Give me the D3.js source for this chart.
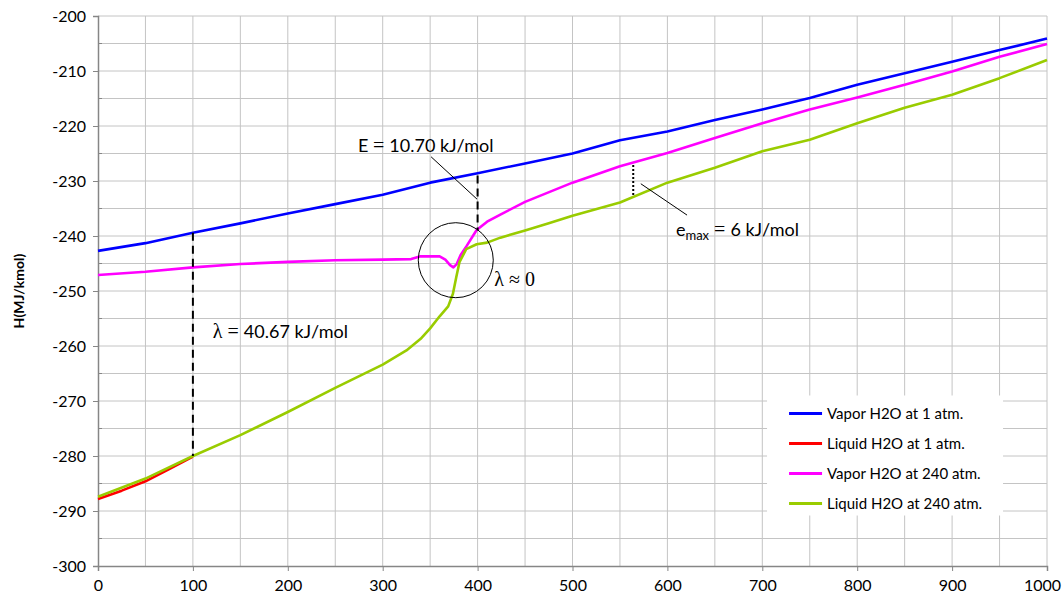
<!DOCTYPE html>
<html>
<head>
<meta charset="utf-8">
<script src="https://cdn.jsdelivr.net/npm/d3@7"></script>
<style>
  body { margin: 0; background: #fff; }
  svg { display: block; font-family: Lato, 'Liberation Sans', sans-serif; }
</style>
</head>
<body>
<div id="chart"></div>
<script>
const WIDTH = 1062
const HEIGHT = 600
const margin = { top: 16, right: 15, bottom: 34, left: 98 }

// series: [temperature, enthalpy]
const vapor1atm = [
  [0, -242.7], [50, -241.3], [100, -239.4], [150, -237.7], [200, -235.9], [250, -234.2],
  [300, -232.5], [350, -230.3], [400, -228.6], [450, -226.8], [500, -225.0], [550, -222.6],
  [600, -221.0], [650, -218.9], [700, -217.0], [750, -214.9], [800, -212.5], [850, -210.4],
  [900, -208.3], [950, -206.2], [1000, -204.1],
]
const liquid1atm = [
  [0, -287.8], [25, -286.3], [50, -284.6], [75, -282.4], [100, -280.1],
]
const vapor240atm = [
  [0, -247.1], [50, -246.5], [100, -245.7], [150, -245.1], [200, -244.7], [250, -244.4],
  [300, -244.3], [330, -244.2], [340, -243.7], [360, -243.7], [366, -244.3], [371, -245.3],
  [374.5, -245.7], [378, -245.1], [382, -243.5], [388.5, -241.8], [399, -238.9], [410, -237.4],
  [424, -236.1], [450, -233.8], [500, -230.3], [550, -227.3], [600, -224.9], [650, -222.2],
  [700, -219.5], [750, -217.0], [800, -214.8], [850, -212.5], [900, -210.1], [950, -207.4],
  [1000, -205.1],
]
const liquid240atm = [
  [0, -287.4], [50, -284.1], [100, -280.0], [150, -276.2], [200, -272.0], [250, -267.6],
  [300, -263.4], [325, -260.8], [340, -258.7], [350, -256.8], [360, -254.6], [369, -252.8],
  [374, -250.5], [377.5, -247.5], [381, -244.7], [388, -242.4], [399, -241.5], [410, -241.2],
  [424, -240.3], [450, -239.0], [475, -237.7], [500, -236.3], [550, -233.9], [600, -230.3],
  [650, -227.6], [700, -224.6], [750, -222.5], [800, -219.5], [850, -216.7], [900, -214.3],
  [950, -211.3], [1000, -208.0],
]

const seriesNames = ['Vapor H2O at 1 atm.', 'Liquid H2O at 1 atm.', 'Vapor H2O at 240 atm.', 'Liquid H2O at 240 atm.']
const seriesColors = ['#0000ff', '#ff0000', '#ff00ff', '#99cc00']
const seriesData = [vapor1atm, liquid1atm, vapor240atm, liquid240atm]

const xTicks = d3.range(0, 1001, 100)
const yTicks = d3.range(-300, -199, 10)

const svg = d3.select('#chart').append('svg')
  .attr('width', WIDTH)
  .attr('height', HEIGHT)

const x = d3.scaleLinear().domain([0, 1000]).range([margin.left, WIDTH - margin.right])
const y = d3.scaleLinear().domain([-300, -200]).range([HEIGHT - margin.bottom, margin.top])

// gridlines
const grid = svg.append('g').attr('stroke', '#c4c4c4').attr('stroke-width', 1)
grid.selectAll('line.v').data(d3.range(50, 1001, 50)).enter().append('line')
  .attr('x1', d => x(d)).attr('x2', d => x(d))
  .attr('y1', y(-300)).attr('y2', y(-200))
grid.selectAll('line.h').data(d3.range(-295, -199, 5)).enter().append('line')
  .attr('x1', x(0)).attr('x2', x(1000))
  .attr('y1', d => y(d)).attr('y2', d => y(d))

// axes (plain hyphen minus, no thousands separator)
const plain = d => String(d)
const yAxis = svg.append('g')
  .attr('transform', `translate(${x(0)},0)`)
  .call(d3.axisLeft(y).tickValues(yTicks).tickFormat(plain).tickSize(5).tickPadding(7))
const xAxis = svg.append('g')
  .attr('transform', `translate(0,${y(-300)})`)
  .call(d3.axisBottom(x).tickValues(xTicks).tickFormat(plain).tickSize(5).tickPadding(9))
for (const ax of [xAxis, yAxis]) {
  ax.select('.domain').attr('stroke', '#868686').attr('stroke-width', 1.5)
  ax.selectAll('.tick line').attr('stroke', '#868686')
  ax.selectAll('.tick text').attr('fill', '#000').style('font-size', '16px')
    .style('font-family', 'Lato, sans-serif')
}
// keep the last label inside the window
xAxis.selectAll('.tick text').filter(d => d === 1000).attr('dx', -5)
// minor ticks inside
svg.append('g').attr('stroke', '#868686').selectAll('line')
  .data(d3.range(-295, -200, 10)).enter().append('line')
  .attr('x1', x(0)).attr('x2', x(0) + 4)
  .attr('y1', d => y(d)).attr('y2', d => y(d))

svg.append('text')
  .attr('transform', `translate(24,${y(-250)}) rotate(-90)`)
  .attr('text-anchor', 'middle')
  .style('font-size', '14px')
  .style('font-weight', 'bold')
  .text('H(MJ/kmol)')

// series lines
const line = d3.line().x(d => x(d[0])).y(d => y(d[1]))
svg.append('g').selectAll('path')
  .data(seriesData).enter().append('path')
  .attr('d', line)
  .attr('fill', 'none')
  .attr('stroke', (d, i) => seriesColors[i])
  .attr('stroke-width', 2.6)
  .attr('stroke-linejoin', 'round')

// annotations
const ann = svg.append('g').attr('stroke', '#000').attr('fill', 'none')
ann.append('line')
  .attr('x1', x(100)).attr('x2', x(100))
  .attr('y1', y(-239.4)).attr('y2', y(-280))
  .attr('stroke-width', 2).attr('stroke-dasharray', '8,5')
ann.append('line')
  .attr('x1', x(400)).attr('x2', x(400))
  .attr('y1', y(-229.0)).attr('y2', y(-239.0))
  .attr('stroke-width', 2).attr('stroke-dasharray', '8,5')
ann.append('line')
  .attr('x1', x(351)).attr('x2', x(399.4))
  .attr('y1', y(-225.6)).attr('y2', y(-233.3))
  .attr('stroke-width', 1)
ann.append('line')
  .attr('x1', x(564)).attr('x2', x(564))
  .attr('y1', y(-227.1)).attr('y2', y(-232.8))
  .attr('stroke-width', 2).attr('stroke-dasharray', '2,2')
ann.append('line')
  .attr('x1', x(572)).attr('x2', x(620.7))
  .attr('y1', y(-230.5)).attr('y2', y(-236.2))
  .attr('stroke-width', 1)
ann.append('circle')
  .attr('cx', x(377)).attr('cy', y(-244.4)).attr('r', 37.5)
  .attr('stroke-width', 1)

const serif = "'Liberation Serif', 'DejaVu Serif', serif"
const t1 = svg.append('text').attr('x', x(121)).attr('y', y(-258.5)).style('font-size', '18px')
t1.append('tspan').style('font-family', serif).style('font-size', '20px').text('λ = ')
t1.append('tspan').text('40.67 kJ/mol')

const t2 = svg.append('text').attr('x', x(274)).attr('y', y(-224.7)).style('font-size', '18px')
t2.append('tspan').text('E ')
t2.append('tspan').style('font-family', serif).style('font-size', '20px').text('= ')
t2.append('tspan').text('10.70 kJ/mol')

svg.append('text').attr('x', x(417.5)).attr('y', y(-249.1))
  .style('font-family', serif).style('font-size', '20px')
  .text('λ ≈ 0')

const t3 = svg.append('text').attr('x', x(609)).attr('y', y(-240)).style('font-size', '18px')
t3.append('tspan').text('e')
t3.append('tspan').attr('dy', 4).style('font-size', '13px').text('max')
t3.append('tspan').attr('dy', -4).style('font-family', serif).style('font-size', '20px').text(' = ')
t3.append('tspan').text('6 kJ/mol')

// legend
const legend = svg.append('g').attr('transform', `translate(${x(705)},${y(-269)})`)
legend.append('rect').attr('width', 236).attr('height', 120).attr('fill', '#fff')
const items = legend.selectAll('g').data(seriesNames).enter().append('g')
  .attr('transform', (d, i) => `translate(0,${18 + i * 30})`)
items.append('line')
  .attr('x1', 22).attr('x2', 55)
  .attr('stroke', (d, i) => seriesColors[i])
  .attr('stroke-width', 3)
items.append('text')
  .attr('x', 60).attr('dy', '0.35em')
  .style('font-size', '15px')
  .text(d => d)
</script>
</body>
</html>
